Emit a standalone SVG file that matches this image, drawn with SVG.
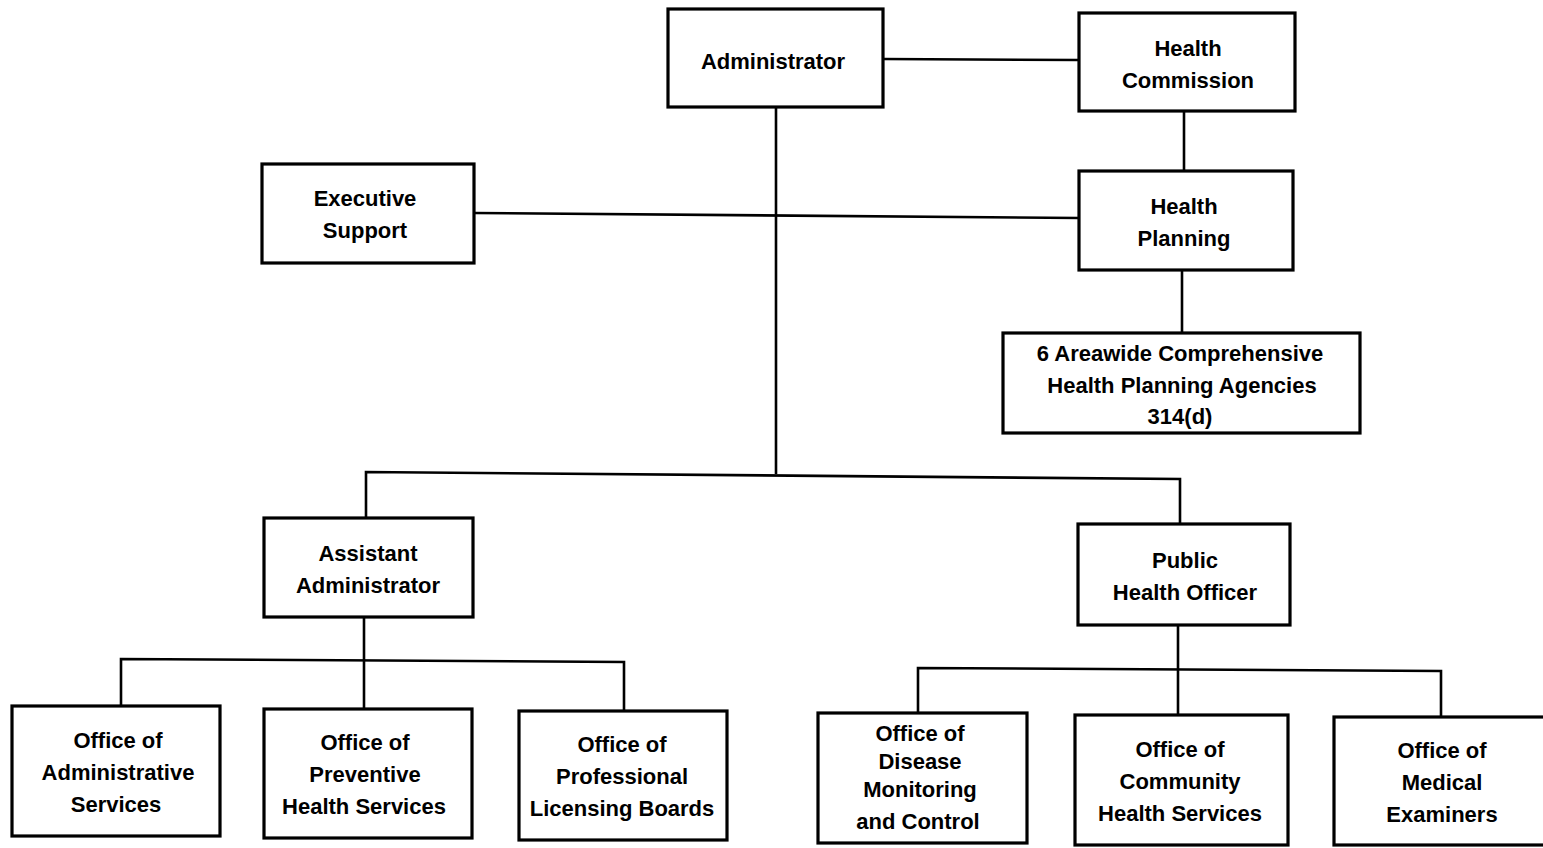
<svg xmlns="http://www.w3.org/2000/svg" width="1543" height="848" viewBox="0 0 1543 848">
<style>
.box{fill:#fff;stroke:#000;stroke-width:3.2}
.ln{fill:none;stroke:#000;stroke-width:2.6}
text{font-family:"Liberation Sans",Arial,sans-serif;font-weight:bold;font-size:22px;text-anchor:middle;fill:#000}
</style>
<rect width="1543" height="848" fill="#fff"/>
<g id="connectors">
<line class="ln" x1="883" y1="59" x2="1079" y2="60"/>
<line class="ln" x1="1184" y1="111" x2="1184" y2="172"/>
<line class="ln" x1="474" y1="213" x2="1079" y2="218"/>
<line class="ln" x1="776" y1="107" x2="776" y2="474"/>
<line class="ln" x1="1182" y1="270" x2="1182" y2="333"/>
<polyline class="ln" points="366,518 366,472 1180,479 1180,525"/>
<line class="ln" x1="364" y1="617" x2="364" y2="709"/>
<polyline class="ln" points="121,706 121,659 624,662 624,711"/>
<line class="ln" x1="1178" y1="625" x2="1178" y2="715"/>
<polyline class="ln" points="918,713 918,668 1441,671 1441,718"/>
</g>
<g id="administrator">
<rect class="box" x="668" y="9" width="215" height="98"/>
<text x="773" y="69">Administrator</text>
</g>
<g id="health-commission">
<rect class="box" x="1079" y="13" width="216" height="98"/>
<text x="1188" y="56">Health</text>
<text x="1188" y="88">Commission</text>
</g>
<g id="executive-support">
<rect class="box" x="262" y="164" width="212" height="99"/>
<text x="365" y="206">Executive</text>
<text x="365" y="238">Support</text>
</g>
<g id="health-planning">
<rect class="box" x="1079" y="171" width="214" height="99"/>
<text x="1184" y="214">Health</text>
<text x="1184" y="246">Planning</text>
</g>
<g id="areawide-agencies">
<rect class="box" x="1003" y="333" width="357" height="100"/>
<text x="1180" y="361">6 Areawide Comprehensive</text>
<text x="1182" y="393">Health Planning Agencies</text>
<text x="1180" y="424">314(d)</text>
</g>
<g id="assistant-administrator">
<rect class="box" x="264" y="518" width="209" height="99"/>
<text x="368" y="561">Assistant</text>
<text x="368" y="593">Administrator</text>
</g>
<g id="public-health-officer">
<rect class="box" x="1078" y="524" width="212" height="101"/>
<text x="1185" y="568">Public</text>
<text x="1185" y="600">Health Officer</text>
</g>
<g id="office-administrative-services">
<rect class="box" x="12" y="706" width="208" height="130"/>
<text x="118" y="748">Office of</text>
<text x="118" y="780">Administrative</text>
<text x="116" y="812">Services</text>
</g>
<g id="office-preventive-health">
<rect class="box" x="264" y="709" width="208" height="129"/>
<text x="365" y="750">Office of</text>
<text x="365" y="782">Preventive</text>
<text x="364" y="814">Health Services</text>
</g>
<g id="office-professional-licensing">
<rect class="box" x="519" y="711" width="208" height="129"/>
<text x="622" y="752">Office of</text>
<text x="622" y="784">Professional</text>
<text x="622" y="816">Licensing Boards</text>
</g>
<g id="office-disease-monitoring">
<rect class="box" x="818" y="713" width="209" height="130"/>
<text x="920" y="741">Office of</text>
<text x="920" y="769">Disease</text>
<text x="920" y="797">Monitoring</text>
<text x="918" y="829">and Control</text>
</g>
<g id="office-community-health">
<rect class="box" x="1075" y="715" width="213" height="130"/>
<text x="1180" y="757">Office of</text>
<text x="1180" y="789">Community</text>
<text x="1180" y="821">Health Services</text>
</g>
<g id="office-medical-examiners">
<rect class="box" x="1334" y="717" width="215" height="128"/>
<text x="1442" y="758">Office of</text>
<text x="1442" y="790">Medical</text>
<text x="1442" y="822">Examiners</text>
</g>
</svg>
